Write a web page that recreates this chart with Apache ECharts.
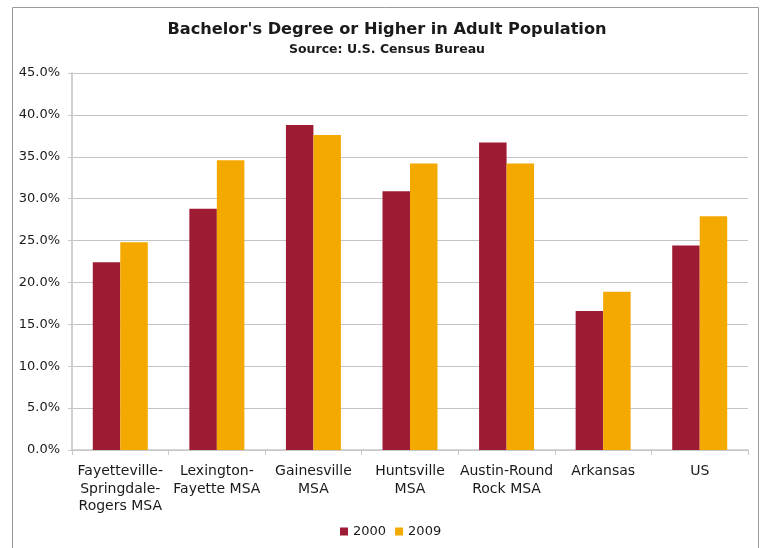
<!DOCTYPE html>
<html>
<head>
<meta charset="utf-8">
<script src="https://cdn.jsdelivr.net/npm/echarts@6/dist/echarts.min.js"></script>
<style>html,body{margin:0;padding:0;background:#fff}#c{width:764px;height:548px}</style>
</head>
<body>
<div id="c"></div>
<script>
const categories = ['Fayetteville-\nSpringdale-\nRogers MSA', 'Lexington-\nFayette MSA', 'Gainesville\nMSA', 'Huntsville\nMSA', 'Austin-Round\nRock MSA', 'Arkansas', 'US'];
const values2000 = [22.4, 28.8, 38.8, 30.9, 36.7, 16.6, 24.4];
const values2009 = [24.8, 34.6, 37.6, 34.2, 34.2, 18.9, 27.9];
const seriesNames = ['2000', '2009'];
const titleText = "Bachelor's Degree or Higher in Adult Population";
const subtitleText = 'Source: U.S. Census Bureau';

const FONT = 'DejaVu Sans';
const chart = echarts.init(document.getElementById('c'));
chart.setOption({
  animation: false,
  backgroundColor: '#fff',
  title: {
    text: titleText,
    subtext: subtitleText,
    left: 382, top: 17, textAlign: 'center',
    itemGap: 5,
    textStyle: { fontFamily: FONT, fontSize: 16.2, fontWeight: 'bold', color: '#1a1a1a' },
    subtextStyle: { fontFamily: FONT, fontSize: 12.5, fontWeight: 'bold', color: '#1a1a1a' }
  },
  graphic: [{
    type: 'rect', shape: { x: 12.5, y: 7.5, width: 746, height: 560 },
    style: { fill: 'none', stroke: '#9a9a9a', lineWidth: 1 }, silent: true
  }],
  legend: {
    data: seriesNames, bottom: 5, left: 335,
    itemWidth: 8, itemHeight: 8, itemGap: 9,
    icon: 'rect',
    textStyle: { fontFamily: FONT, fontSize: 13, color: '#1a1a1a', padding: [0, 0, 0, 0] }
  },
  grid: { left: 72, right: 16, top: 73, bottom: 98 },
  xAxis: {
    type: 'category', data: categories,
    axisLine: { lineStyle: { color: '#c8c8c8', width: 1.5 } },
    axisTick: { show: true, length: 5, lineStyle: { color: '#c8c8c8' } },
    axisLabel: { fontFamily: FONT, fontSize: 14, color: '#1a1a1a', lineHeight: 17.5, margin: 13, interval: 0 }
  },
  yAxis: {
    type: 'value', min: 0, max: 45, interval: 5,
    axisLine: { show: true, lineStyle: { color: '#d0d0d0', width: 2 } },
    axisTick: { show: true, length: 4, lineStyle: { color: '#c8c8c8' } },
    axisLabel: { fontFamily: FONT, fontSize: 13, color: '#1a1a1a', margin: 12, formatter: v => v.toFixed(1) + '%' },
    splitLine: { lineStyle: { color: '#c4c4c4', width: 1 } }
  },
  series: [
    { name: seriesNames[0], type: 'bar', data: values2000, barWidth: 27.5, barGap: '0%', itemStyle: { color: '#9E1B34' } },
    { name: seriesNames[1], type: 'bar', data: values2009, barWidth: 27.5, barGap: '0%', itemStyle: { color: '#F4A900' } }
  ]
});
</script>
</body>
</html>
